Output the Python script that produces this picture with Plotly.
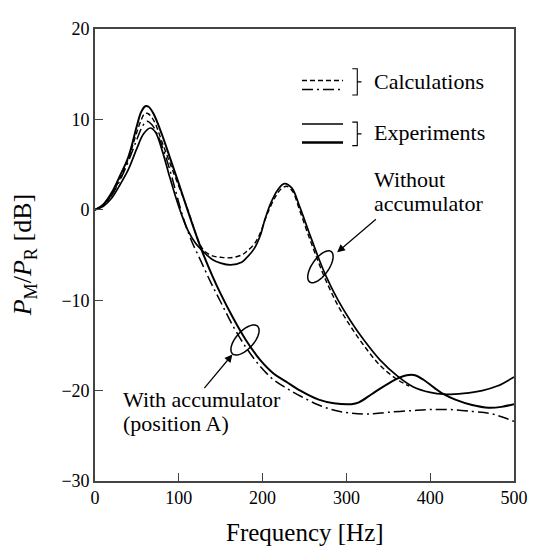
import numpy as np
import plotly.graph_objects as go

# ---------------- data ----------------
f_wo_calc = [0, 10, 20, 30, 40, 50, 55, 59, 63, 70, 80, 90, 100, 110, 118, 124, 130, 140, 150, 162,
             175, 181, 190, 197, 205, 215, 222, 229, 236, 244, 255, 265, 275, 290, 305, 320, 340, 361, 375]
db_wo_calc = [0, 0.55, 1.7, 3.5, 5.7, 8.6, 9.9, 10.6, 10.65, 9.9, 7.5, 5.0, 2.6, 0.2, -2.0, -3.6, -4.5, -5.1, -5.25, -5.3,
              -5.0, -4.6, -3.8, -2.6, -0.6, 1.4, 2.3, 2.6, 2.0, 0.0, -2.9, -5.4, -7.7, -10.6, -12.9, -14.9, -17.2, -18.8, -19.5]

f_w_calc = [0, 10, 20, 30, 40, 50, 57, 62, 68, 76, 84, 90, 95, 105, 115, 126, 138, 150, 165, 180, 197, 213,
            228, 245, 267, 287, 306, 326, 350, 380, 400, 424, 450, 470, 485, 500]
db_w_calc = [0, 0.5, 1.6, 3.3, 5.4, 7.8, 9.3, 9.8, 9.4, 8.0, 6.0, 4.2, 2.5, -0.8, -3.4, -5.6, -8.0, -10.2, -12.9, -15.2, -17.3, -18.8,
             -19.7, -20.6, -21.6, -22.2, -22.5, -22.6, -22.4, -22.2, -22.1, -22.1, -22.3, -22.5, -22.9, -23.4]

f_wo_exp = [0, 10, 20, 30, 40, 50, 58, 66, 72, 80, 88, 96, 104, 111, 120, 129, 140, 150, 162, 175, 181, 190,
            197, 203, 210, 218, 226, 235, 244, 255, 265, 275, 290, 305, 320, 340, 361, 380, 400, 416, 440, 462, 480, 500]
db_wo_exp = [0, 0.4, 1.3, 2.8, 4.5, 6.8, 8.4, 9.05, 8.6, 6.6, 4.0, 1.5, -0.7, -2.3, -3.7, -4.6, -5.5, -5.9, -6.1, -5.8, -5.3, -4.3,
             -2.9, -1.0, 0.8, 2.2, 2.9, 2.4, 0.4, -2.4, -4.9, -7.2, -10.0, -12.3, -14.3, -16.6, -18.4, -19.6, -20.2, -20.4, -20.3, -20.0, -19.5, -18.5]

f_w_exp = [0, 10, 20, 30, 40, 50, 55, 60, 64, 70, 80, 90, 100, 110, 120, 130, 140, 150, 165, 180, 197, 213, 228, 245,
           267, 285, 306, 315, 330, 345, 360, 372, 382, 392, 405, 416, 430, 450, 470, 485, 500]
db_w_exp = [0, 0.6, 1.9, 3.8, 5.9, 9.3, 10.8, 11.45, 11.4, 10.6, 8.3, 5.6, 2.9, 0.1, -2.6, -5.1, -7.3, -9.3, -12.0, -14.4, -16.6, -18.1, -19.0, -20.0,
            -21.0, -21.4, -21.5, -21.3, -20.4, -19.5, -18.7, -18.3, -18.3, -18.8, -19.7, -20.4, -21.0, -21.6, -21.9, -21.8, -21.5]

x_ticks = [0, 100, 200, 300, 400, 500]
y_ticks = [-30, -20, -10, 0, 10, 20]

# ---------------- figure ----------------
SERIF = "Liberation Serif"
DASH = "5px,3px"
DASHDOT = "11px,4px,2px,4px"


def serif(size):
    return dict(family=SERIF, size=size, color="black")


# The page body has an 8px margin; the plot area is wanted at these page pixels
OFF = 8
PL, PT, PR, PB = 95, 19, 522, 481
W, H = 531, 540
pw, ph = PR - PL, PB - PT
px_per_hz = pw / 500.0
px_per_db = ph / 50.0

fig = go.Figure()
fig.add_trace(go.Scatter(x=f_wo_calc, y=db_wo_calc, mode="lines", line_shape="spline",
                         line=dict(color="black", width=1.4, dash=DASH)))
fig.add_trace(go.Scatter(x=f_w_calc, y=db_w_calc, mode="lines", line_shape="spline",
                         line=dict(color="black", width=1.5, dash=DASHDOT)))
fig.add_trace(go.Scatter(x=f_wo_exp, y=db_wo_exp, mode="lines", line_shape="spline",
                         line=dict(color="black", width=1.7)))
fig.add_trace(go.Scatter(x=f_w_exp, y=db_w_exp, mode="lines", line_shape="spline",
                         line=dict(color="black", width=2.0)))


def ellipse_path(fc, dbc, a, b, ang_deg):
    t = np.linspace(0, 2 * np.pi, 60)
    th = np.radians(ang_deg)
    ex = a * np.cos(t) * np.cos(th) - b * np.sin(t) * np.sin(th)
    ey = a * np.cos(t) * np.sin(th) + b * np.sin(t) * np.cos(th)
    xs = fc + ex / px_per_hz
    ys = dbc + ey / px_per_db
    return "M " + " L ".join(f"{x:.3f},{y:.3f}" for x, y in zip(xs, ys)) + " Z"


shapes = [
    dict(type="path", xref="x", yref="y", path=ellipse_path(269, -6.3, 19, 8.5, 55),
         line=dict(color="black", width=1.5)),
    dict(type="path", xref="x", yref="y", path=ellipse_path(179, -14.4, 19, 9, 48),
         line=dict(color="black", width=1.5)),
    # legend samples
    dict(type="line", xref="x", yref="y", x0=247, x1=296, y0=14.3, y1=14.3,
         line=dict(color="black", width=1.4, dash=DASH)),
    dict(type="line", xref="x", yref="y", x0=247, x1=296, y0=13.3, y1=13.3,
         line=dict(color="black", width=1.5, dash=DASHDOT)),
    dict(type="line", xref="x", yref="y", x0=247, x1=296, y0=9.5, y1=9.5,
         line=dict(color="black", width=1.5)),
    dict(type="line", xref="x", yref="y", x0=247, x1=296, y0=7.45, y1=7.45,
         line=dict(color="black", width=2.4)),
    # brackets
    dict(type="path", xref="x", yref="y",
         path="M 307,15.6 L 313,15.6 L 313,12.7 L 307,12.7 M 313,14.15 L 318,14.15",
         line=dict(color="black", width=1.1)),
    dict(type="path", xref="x", yref="y",
         path="M 307,9.7 L 313,9.7 L 313,7.1 L 307,7.1 M 313,8.4 L 318,8.4",
         line=dict(color="black", width=1.1)),
]


def label(x, y, text):
    return dict(x=x, y=y, xref="x", yref="y", text=text, showarrow=False,
                xanchor="left", yanchor="middle", font=serif(22))


annotations = [
    label(330, 14.2, "Calculations"),
    label(330, 8.6, "Experiments"),
    label(331, 3.3, "Without"),
    label(331, 0.7, "accumulator"),
    label(31.6, -21.0, "With accumulator"),
    label(31.6, -23.6, "(position A)"),
    # arrows
    dict(x=289, y=-4.7, ax=337, ay=-0.9, xref="x", yref="y", axref="x", ayref="y", text="",
         showarrow=True, arrowhead=2, arrowsize=1.3, arrowwidth=1.2, arrowcolor="black", standoff=0),
    dict(x=164, y=-16.0, ax=129, ay=-19.9, xref="x", yref="y", axref="x", ayref="y", text="",
         showarrow=True, arrowhead=2, arrowsize=1.3, arrowwidth=1.2, arrowcolor="black", standoff=0),
    # axis titles
    dict(x=0.5, y=(PB - 534) / ph, xref="paper", yref="paper", showarrow=False,
         text="Frequency [Hz]", font=serif(25), xanchor="center", yanchor="middle"),
    dict(x=(23 - PL) / pw, y=0.5, xref="paper", yref="paper", showarrow=False, textangle=-90,
         text="<i>P</i><sub>M</sub>/<i>P</i><sub>R</sub> [dB]",
         font=serif(26), xanchor="center", yanchor="middle"),
]


def axis(vals, texts, rng):
    return dict(range=rng, tickvals=vals, ticktext=texts,
                showgrid=False, zeroline=False, showline=True, mirror=True,
                linecolor="#444", linewidth=1.6, ticks="inside", ticklen=8,
                tickwidth=1.4, tickcolor="#444", tickfont=serif(18))


fig.update_layout(
    width=W, height=H,
    margin=dict(l=PL - OFF, r=(W + OFF) - PR, t=PT - OFF, b=(H + OFF) - PB),
    paper_bgcolor="white", plot_bgcolor="white",
    showlegend=False,
    xaxis=axis(x_ticks, [str(v) for v in x_ticks], [0, 500]),
    yaxis=axis(y_ticks, [("−" + str(-v)) if v < 0 else str(v) for v in y_ticks], [-30, 20]),
    shapes=shapes,
    annotations=annotations,
)

fig.write_html("out.html")
